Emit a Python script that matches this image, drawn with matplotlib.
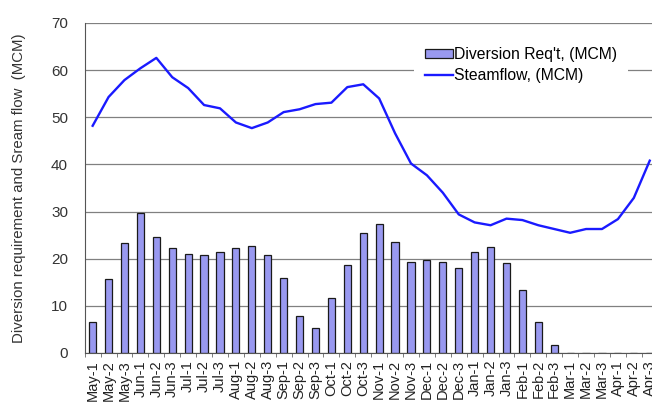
import matplotlib
matplotlib.use("Agg")
import matplotlib.pyplot as plt
import numpy as np

plt.rcParams['font.family'] = ['Liberation Sans', 'DejaVu Sans']

months = ["May", "Jun", "Jul", "Aug", "Sep", "Oct", "Nov", "Dec",
          "Jan", "Feb", "Mar", "Apr"]
dekads = [f"{m}-{d}" for m in months for d in (1, 2, 3)]

diversion_req = [6.6, 15.6, 23.3, 29.7, 24.6, 22.2, 21.0, 20.7, 21.5,
                 22.2, 22.7, 20.8, 15.9, 7.8, 5.3, 11.6, 18.7, 25.4,
                 27.3, 23.6, 19.3, 19.7, 19.4, 18.0, 21.4, 22.4, 19.0,
                 13.4, 6.6, 1.8, 0, 0, 0, 0, 0, 0]

streamflow = [48.2, 54.3, 57.9, 60.4, 62.6, 58.5, 56.2, 52.6, 51.9,
              48.9, 47.7, 48.9, 51.1, 51.7, 52.8, 53.1, 56.4, 57.0,
              54.0, 46.6, 40.2, 37.7, 34.0, 29.4, 27.7, 27.1, 28.5,
              28.2, 27.1, 26.3, 25.5, 26.3, 26.3, 28.4, 32.9, 40.8]

fig = plt.figure(figsize=(6.52, 4.05), dpi=100)
ax = fig.add_axes([84.7 / 652, 52 / 405, 573 / 652, 330 / 405])

x = np.arange(len(dekads))
bars = ax.bar(x, diversion_req, width=0.45, color="#9999f0",
              edgecolor="#1a1a1a", linewidth=0.9,
              label="Diversion Req't, (MCM)", zorder=2)
line, = ax.plot(x, streamflow, color="#1a1aff", linewidth=1.7,
                label="Steamflow, (MCM)", zorder=3)

ax.set_xlim(-0.5, len(dekads) - 0.5)
ax.set_ylim(0, 70)
ax.set_yticks(range(0, 71, 10))
ax.yaxis.grid(True, color="#808080", linewidth=0.9)
ax.set_axisbelow(True)

ax.set_xticks(x)
ax.set_xticklabels(dekads, rotation=90, fontsize=10.5)
ax.set_xticks(np.arange(-0.5, len(dekads), 1), minor=True)
ax.tick_params(axis="x", which="major", length=0, pad=5)
ax.tick_params(axis="x", which="minor", length=3, color="#666666",
               direction="out")
ax.tick_params(axis="y", length=0, labelsize=11, pad=12, colors="#333333")
for lbl in ax.get_xticklabels():
    lbl.set_color("#222222")

for side in ("top", "right"):
    ax.spines[side].set_visible(False)
ax.spines["left"].set_color("#555555")
ax.spines["bottom"].set_color("#555555")

ax.set_ylabel("Diversion requirement and Sream flow  (MCM)", fontsize=10.8,
              color="#333333", labelpad=18)

leg = ax.legend(handles=[bars, line], loc="upper left",
                bbox_to_anchor=(0.575, 0.96), frameon=True,
                fontsize=11.3, handlelength=1.75, handleheight=0.55,
                handletextpad=0.1, borderaxespad=0, labelspacing=0.4,
                borderpad=0.7)
leg.get_frame().set_edgecolor("none")
leg.get_frame().set_facecolor("white")
leg.get_frame().set_alpha(1.0)

fig.savefig("out.png", dpi=100)
